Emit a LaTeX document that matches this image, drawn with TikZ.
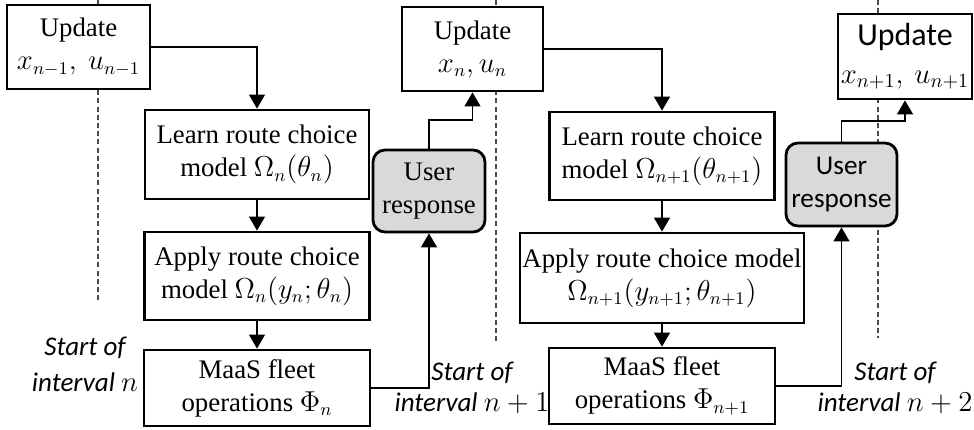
\documentclass[tikz,border=0pt]{standalone}
\usepackage{fontspec}
\setmainfont{Liberation Serif}
\newfontfamily\calib{Carlito}
\usetikzlibrary{arrows.meta}

\begin{document}
\begin{tikzpicture}[x=0.5pt,y=-0.5pt,
  box/.style={draw, line width=1.4pt, fill=white, align=center, inner sep=0pt,
    font=\fontsize{13.4}{16.5}\selectfont},
  resp/.style={box, fill=black!15, rounded corners=6pt},
  conn/.style={line width=0.65pt, -{Triangle[length=7pt,width=8pt]}},
  divider/.style={line width=0.65pt, black!70, dash pattern=on 2.5pt off 1.6pt},
  lab/.style={align=center, inner sep=0pt, font=\calib\itshape\fontsize{13.5}{15.5}\selectfont}
]
\useasboundingbox (0,0) rectangle (974,429);

% interval boundaries
\draw[divider] (98,0) -- (98,303);
\draw[divider] (496,0) -- (496,343);
\draw[divider] (878,0) -- (878,338);

% interval n
\node[box, minimum width=71.5pt, minimum height=42pt] (u1) at (78.5,47)
  {Update\\ $x_{n-1},\ u_{n-1}$};
\node[box, minimum width=112pt, minimum height=44.5pt] (l1) at (257,154.5)
  {Learn route choice\\ model $\Omega_n(\theta_n)$};
\node[box, minimum width=112.5pt, minimum height=44pt] (a1) at (257,276)
  {Apply route choice\\ model $\Omega_n(y_n;\theta_n)$};
\node[box, minimum width=113pt, minimum height=38pt] (m1) at (257,388)
  {MaaS fleet\\ operations $\Phi_n$};
\node[resp, minimum width=56pt, minimum height=41pt] (r1) at (429,191)
  {User\\ response};

% interval n+1
\node[box, minimum width=70.5pt, minimum height=42pt] (u2) at (472.5,49)
  {Update\\ $x_n, u_n$};
\node[box, minimum width=112.5pt, minimum height=44pt] (l2) at (662,156)
  {Learn route choice\\ model $\Omega_{n+1}(\theta_{n+1})$};
\node[box, minimum width=142pt, minimum height=45pt] (a2) at (662,278)
  {Apply route choice model\\ $\Omega_{n+1}(y_{n+1};\theta_{n+1})$};
\node[box, minimum width=113pt, minimum height=38pt] (m2) at (662,386)
  {MaaS fleet\\ operations $\Phi_{n+1}$};
\node[resp, font=\calib\fontsize{13.6}{16.5}\selectfont,
  minimum width=55.5pt, minimum height=41.5pt] (r2) at (841.5,184.5)
  {User\\ response};

% interval n+2
\node[box, font=\calib\fontsize{16}{19}\selectfont,
  minimum width=67pt, minimum height=42.5pt] (u3) at (905,56.5)
  {Update\\ {\fontsize{14}{19}\selectfont$x_{n+1},\ u_{n+1}$}};

% interval start labels
\node[lab, font=\calib\itshape\fontsize{13.5}{18}\selectfont] (s1) at (85,364)
  {Start of\\ interval $n$};
\node[lab] (s2) at (472,388) {Start of\\ interval $n+1$};
\node[lab] (s3) at (895,388) {Start of\\ interval $n+2$};

% flow
\coordinate (k1) at (429,120);
\coordinate (k2) at (841.5,121);
\draw[conn] (u1.east) -| (l1.north);
\draw[conn] (l1) -- (a1);
\draw[conn] (a1) -- (m1);
\draw[conn] (m1.east) -| (r1.south);
\draw[conn] (r1.north) -- (k1) -| (u2.south);
\draw[conn] (u2.east) -| (l2.north);
\draw[conn] (l2) -- (a2);
\draw[conn] (a2) -- (m2);
\draw[conn] (m2.east) -| (r2.south);
\draw[conn] (r2.north) -- (k2) -| (u3.south);
\end{tikzpicture}
\end{document}
